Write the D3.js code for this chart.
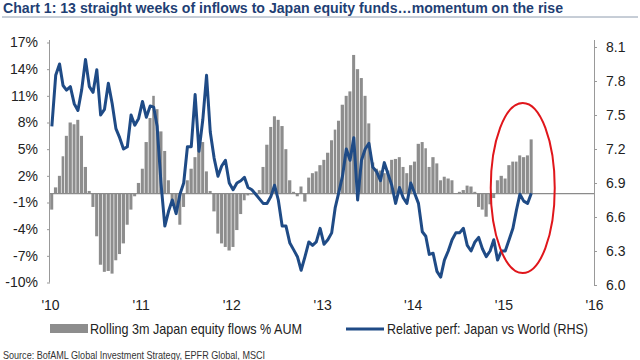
<!DOCTYPE html>
<html><head><meta charset="utf-8">
<script src="https://cdn.jsdelivr.net/npm/d3@7"></script>
<style>body{margin:0;background:#fff}svg{display:block}</style>
</head><body>
<svg id="c" width="640" height="360"></svg>
<script>
// ---- data (semi-monthly readings) ----
const years = [2010, 2011, 2012, 2013, 2014, 2015];
const flows2010 = [-1.8, 0.7, 2.0, 4.2, 6.5, 8.0, 7.8, 8.3, 6.5, 3.0, 0.3, -1.5, -4.8, -8.0, -8.8, -8.7, -9.0, -7.5, -6.8, -5.6, -3.5, -1.8, -0.3, 1.2];
const flows2011 = [2.8, 5.8, 8.5, 11.0, 9.5, 7.0, 4.8, 1.5, -0.8, -2.0, -3.5, -1.5, 1.5, 2.8, 4.1, 6.2, 5.8, 2.5, 0.3, -2.0, -4.5, -5.6, -6.0, -6.4];
const flows2012 = [-6.0, -4.1, -2.3, -0.75, -0.2, -0.1, 0.1, 0.4, 3.0, 5.5, 7.5, 8.7, 8.3, 7.6, 5.0, 1.5, 0.2, -0.3, 0.8, -0.9, 1.8, 2.3, 2.5, 3.2];
const flows2013 = [3.8, 4.6, 6.0, 7.2, 8.2, 10.0, 11.0, 11.5, 15.6, 14.0, 13.0, 11.0, 7.9, 3.5, 2.8, 2.6, 2.3, 2.6, 3.8, 3.9, 4.1, 3.0, 2.3, 3.2];
const flows2014 = [3.6, 5.6, 5.8, 5.1, 3.0, 4.1, 3.4, 1.5, 1.9, 1.7, 1.5, 0.0, 0.2, 0.4, 0.9, 0.8, 0.2, -1.5, -1.8, -2.6, -1.2, -0.5, 1.5, 2.0];
const flows2015 = [1.7, 3.2, 3.6, 3.6, 4.3, 4.1, 4.3, 6.1];

const perf2010 = [7.40, 7.85, 7.95, 7.76, 7.72, 7.75, 7.60, 7.54, 7.72, 7.99, 7.75, 7.70, 7.90, 7.50, 7.55, 7.78, 7.60, 7.38, 7.30, 7.20, 7.22, 7.50, 7.41, 7.47];
const perf2011 = [7.62, 7.48, 7.58, 7.57, 7.40, 6.90, 6.52, 6.65, 6.75, 6.63, 6.80, 6.90, 7.22, 7.22, 7.68, 7.18, 7.46, 7.85, 7.35, 7.12, 6.96, 7.05, 7.10, 6.90];
const perf2012 = [6.84, 6.90, 6.92, 6.95, 6.86, 6.84, 6.80, 6.76, 6.72, 6.72, 6.78, 6.88, 6.75, 6.52, 6.52, 6.37, 6.31, 6.25, 6.13, 6.25, 6.38, 6.35, 6.38, 6.50];
const perf2013 = [6.36, 6.40, 6.46, 6.68, 6.81, 6.96, 7.20, 7.10, 7.30, 6.75, 7.10, 7.20, 7.25, 7.04, 7.00, 6.92, 7.08, 6.98, 6.88, 6.72, 6.86, 6.77, 6.72, 6.90];
const perf2014 = [6.81, 6.72, 6.47, 6.43, 6.27, 6.28, 6.12, 6.07, 6.22, 6.30, 6.40, 6.46, 6.46, 6.50, 6.35, 6.30, 6.38, 6.42, 6.32, 6.25, 6.30, 6.40, 6.22, 6.30];
const perf2015 = [6.30, 6.40, 6.50, 6.66, 6.80, 6.74, 6.72, 6.81];

const xTickYears = [2010, 2011, 2012, 2013, 2014, 2015, 2016];
const leftTicks = [17, 14, 11, 8, 5, 2, -1, -4, -7, -10];
const rightTicks = [8.1, 7.8, 7.5, 7.2, 6.9, 6.6, 6.3, 6.0];

const titleText = "Chart 1: 13 straight weeks of inflows to Japan equity funds\u2026momentum on the rise";
const legendBars = "Rolling 3m Japan equity flows % AUM";
const legendLine = "Relative perf: Japan vs World (RHS)";
const sourceText = "Source: BofAML Global Investment Strategy, EPFR Global, MSCI";

// ---- build rows ----
const flowsByYear = [flows2010, flows2011, flows2012, flows2013, flows2014, flows2015];
const perfByYear = [perf2010, perf2011, perf2012, perf2013, perf2014, perf2015];
function halfMonthStart(y, i) { return new Date(y, Math.floor(i / 2), i % 2 ? 16 : 1); }
function halfMonthEnd(y, i) { return i % 2 ? new Date(y, Math.floor(i / 2) + 1, 1) : new Date(y, Math.floor(i / 2), 16); }
const rows = [];
years.forEach((y, k) => {
  flowsByYear[k].forEach((v, i) => {
    rows.push({start: halfMonthStart(y, i), end: halfMonthEnd(y, i), flow: v, perf: perfByYear[k][i]});
  });
});

// ---- chart ----
const svg = d3.select("#c");
const FONT = "'Liberation Sans', Arial, sans-serif";
const NARROW = "'Liberation Sans Narrow', 'Arial Narrow', 'Liberation Sans', Arial, sans-serif";

const x = d3.scaleTime().domain([new Date(2010, 0, 1), new Date(2016, 0, 1)]).range([50, 594]);
const yL = d3.scaleLinear().domain([-10, 17]).range([282.5, 42.5]);
const yR = d3.scaleLinear().domain([6.0, 8.1]).range([285, 47]);

// title
svg.append("text").attr("x", 3).attr("y", 13)
  .attr("font-family", NARROW).attr("font-weight", "bold").attr("font-size", 15.5)
  .attr("fill", "#1f3f74").attr("textLength", 560).attr("lengthAdjust", "spacingAndGlyphs")
  .text(titleText);
svg.append("line").attr("x1", 2).attr("x2", 638).attr("y1", 17).attr("y2", 17)
  .attr("stroke", "#8e9cae").attr("stroke-width", 1);

// bars
svg.append("g").selectAll("rect").data(rows).join("rect")
  .attr("x", d => x(d.start) + 0.2)
  .attr("width", d => Math.max(0.5, x(d.end) - x(d.start) - 0.7))
  .attr("y", d => Math.min(yL(d.flow), yL(0)))
  .attr("height", d => Math.abs(yL(d.flow) - yL(0)))
  .attr("fill", "#8d8d8d");

// zero line
svg.append("line").attr("x1", 50).attr("x2", 594).attr("y1", yL(0)).attr("y2", yL(0))
  .attr("stroke", "#8b8b8b").attr("stroke-width", 1.2);

// relative perf line
const line = d3.line()
  .x(d => x(new Date((d.start.getTime() + d.end.getTime()) / 2)))
  .y(d => yR(d.perf));
svg.append("path").datum(rows).attr("d", line)
  .attr("fill", "none").attr("stroke", "#1f4b86").attr("stroke-width", 3)
  .attr("stroke-linejoin", "round");

// left axis
const axL = svg.append("g").attr("transform", "translate(50,0)")
  .call(d3.axisLeft(yL).tickValues(leftTicks).tickSize(3).tickPadding(9).tickFormat(d => d + "%"));
axL.select(".domain").attr("stroke", "#999").attr("d", "M-0.5," + yL(-10) + "V40");
axL.selectAll(".tick line").attr("stroke", "#999");
axL.selectAll("text").attr("font-family", FONT).attr("font-size", 14).attr("fill", "#222");

// right axis
const axR = svg.append("g").attr("transform", "translate(594,0)")
  .call(d3.axisRight(yR).tickValues(rightTicks).tickSize(3).tickPadding(9).tickFormat(d3.format(".1f")));
axR.select(".domain").attr("stroke", "#999").attr("d", "M0.5," + yR(6.0) + "V40");
axR.selectAll(".tick line").attr("stroke", "#999");
axR.selectAll("text").attr("font-family", FONT).attr("font-size", 14).attr("fill", "#222");

// x labels
const axB = svg.append("g").attr("transform", "translate(0,296)")
  .call(d3.axisBottom(x).tickValues(xTickYears.map(y => new Date(y, 0, 1))).tickSize(0).tickPadding(4)
    .tickFormat(d3.timeFormat("'%y")));
axB.select(".domain").remove();
axB.selectAll("text").attr("font-family", FONT).attr("font-size", 14).attr("fill", "#222");

// highlight ellipse
svg.append("ellipse").attr("cx", x(new Date(2015, 2, 20))).attr("cy", 188).attr("rx", 32).attr("ry", 85)
  .attr("fill", "none").attr("stroke", "#e0161b").attr("stroke-width", 2);

// legend
svg.append("rect").attr("x", 50).attr("y", 324).attr("width", 38).attr("height", 9).attr("fill", "#8d8d8d");
svg.append("text").attr("x", 90).attr("y", 334).attr("font-family", NARROW).attr("font-size", 15)
  .attr("fill", "#222").attr("textLength", 212).attr("lengthAdjust", "spacingAndGlyphs").text(legendBars);
svg.append("line").attr("x1", 346).attr("x2", 384).attr("y1", 329).attr("y2", 329)
  .attr("stroke", "#1f4b86").attr("stroke-width", 3);
svg.append("text").attr("x", 387).attr("y", 334).attr("font-family", NARROW).attr("font-size", 15)
  .attr("fill", "#222").attr("textLength", 201).attr("lengthAdjust", "spacingAndGlyphs").text(legendLine);

// source
svg.append("text").attr("x", 3).attr("y", 359).attr("font-family", NARROW).attr("font-size", 11.5)
  .attr("fill", "#333").attr("textLength", 262).attr("lengthAdjust", "spacingAndGlyphs").text(sourceText);
</script>
</body></html>
